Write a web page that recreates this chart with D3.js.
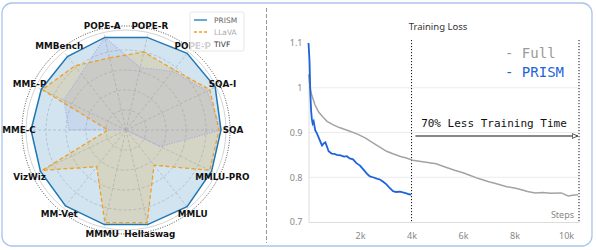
<!DOCTYPE html>
<html>
<head>
<meta charset="utf-8">
<script src="https://cdn.jsdelivr.net/npm/d3@7"></script>
<style>
body{margin:0;background:#fff;}
svg{display:block;}
</style>
</head>
<body>
<div id="chart"></div>
<script>
var w=596;
var h=250;

// radar data (normalised scores)
var axes=["POPE-A","POPE-R","POPE-P","SQA-I","SQA","MMLU-PRO","MMLU","Hellaswag","MMMU","MM-Vet","VizWiz","MME-C","MME-P","MMBench"];
var prism=[0.95,0.95,0.98,0.99,0.95,0.95,0.98,0.97,0.97,0.97,0.95,0.95,0.94,0.94];
var llava=[0.74,0.80,0.77,0.93,0.93,0.93,0.45,0.95,0.95,0.47,0.93,0.18,0.93,0.82];
var tivf=[0.95,0.64,0.75,0.90,0.95,0.38,0,0,0,0,0,0.57,0.69,0.72];

// training loss curves [step, loss]
var fullLoss=[[0,1.03],[60,1.0],[120,0.985],[250,0.962],[400,0.945],[550,0.935],[720,0.925],[960,0.917],[1200,0.911],[1500,0.905],[1880,0.897],[2200,0.888],[2500,0.877],[2800,0.866],[3030,0.858],[3300,0.852],[3600,0.846],[3800,0.843],[4040,0.838],[4300,0.836],[4500,0.834],[4950,0.830],[5300,0.823],[5700,0.815],[6000,0.810],[6230,0.805],[6600,0.797],[7000,0.790],[7260,0.786],[7700,0.779],[8000,0.776],[8270,0.772],[8500,0.768],[8800,0.765],[9100,0.766],[9400,0.764],[9810,0.765],[10080,0.758],[10250,0.760],[10460,0.761]];
var prismLoss=[[0,1.1],[40,1.06],[70,0.99],[100,0.95],[130,0.93],[160,0.92],[200,0.925],[260,0.905],[335,0.897],[420,0.885],[525,0.871],[600,0.876],[655,0.878],[720,0.868],[780,0.858],[900,0.853],[1000,0.852],[1100,0.850],[1250,0.849],[1380,0.846],[1490,0.847],[1600,0.842],[1730,0.840],[1850,0.832],[2000,0.826],[2150,0.816],[2300,0.806],[2385,0.802],[2500,0.800],[2650,0.797],[2770,0.795],[2900,0.790],[3025,0.784],[3150,0.776],[3280,0.769],[3400,0.767],[3550,0.768],[3665,0.766],[3800,0.764],[3900,0.762],[3990,0.761]];
var yTicks=[0.7,0.8,0.9,1,1.1];
var xTicks=[2000,4000,6000,8000,10000];
var xTickLabels=["2k","4k","6k","8k","10k"];

var svg=d3.select("#chart")
  .append("svg")
  .attr("width",w)
  .attr("height",h);

// outer frame + separator
svg.append("rect")
  .attr("x",2).attr("y",3)
  .attr("width",590).attr("height",243)
  .attr("rx",10)
  .attr("fill","none")
  .attr("stroke","#a9c3ef")
  .attr("stroke-width",1.3);
svg.append("line")
  .attr("x1",266.5).attr("x2",266.5)
  .attr("y1",8).attr("y2",243)
  .attr("stroke","#999")
  .attr("stroke-width",1)
  .attr("stroke-dasharray","4,2");

// ---------- radar ----------
var cx=126, cy=130;
var r=d3.scaleLinear().domain([0,1]).range([0,100]);
var angle=d3.scaleLinear().domain([0,axes.length]).range([-Math.PI/axes.length,2*Math.PI-Math.PI/axes.length]);
var radar=svg.append("g").attr("transform","translate("+cx+","+cy+")");

[0.2,0.4,0.6,0.8].forEach(function(v){
  radar.append("circle").attr("r",r(v))
    .attr("fill","none").attr("stroke","#c4c4c4")
    .attr("stroke-width",0.7).attr("stroke-dasharray","3,2");
});
radar.append("circle").attr("r",r(1))
  .attr("fill","none").attr("stroke","#c8c8c8").attr("stroke-width",0.8);
radar.append("circle").attr("r",r(1.04))
  .attr("fill","none").attr("stroke","#222")
  .attr("stroke-width",0.8).attr("stroke-dasharray","1,1.5");

radar.selectAll("line.spoke")
  .data(axes)
  .enter()
  .append("line")
  .attr("class","spoke")
  .attr("x2",function(d,i){ return r(1)*Math.sin(angle(i)); })
  .attr("y2",function(d,i){ return -r(1)*Math.cos(angle(i)); })
  .attr("stroke","#c4c4c4")
  .attr("stroke-width",0.7)
  .attr("stroke-dasharray","3,2");

var radarLine=d3.lineRadial()
  .angle(function(d,i){ return angle(i); })
  .radius(function(d){ return r(d); })
  .curve(d3.curveLinearClosed);

var series=[
  {vals:prism, fill:"#1f77b4", fo:0.2, stroke:"#1f77b4", sw:1.5, dash:null},
  {vals:llava, fill:"#e0a030", fo:0.22, stroke:"#f0a020", sw:1.3, dash:"4,2.5"},
  {vals:tivf, fill:"#8080d0", fo:0.13, stroke:"#a8a8ea", sw:1.2, dash:"1,1.6"}
];
series.forEach(function(s){
  radar.append("path")
    .attr("d",radarLine(s.vals))
    .attr("fill",s.fill)
    .attr("fill-opacity",s.fo)
    .attr("stroke","none");
});
series.slice().reverse().forEach(function(s){
  radar.append("path")
    .attr("d",radarLine(s.vals))
    .attr("fill","none")
    .attr("stroke",s.stroke)
    .attr("stroke-width",s.sw)
    .attr("stroke-dasharray",s.dash);
});

radar.selectAll("text.lbl")
  .data(axes)
  .enter()
  .append("text")
  .attr("class","lbl")
  .text(function(d){ return d; })
  .attr("x",function(d,i){ return 107*Math.sin(angle(i)); })
  .attr("y",function(d,i){ return -107*Math.cos(angle(i)); })
  .attr("dy","0.35em")
  .attr("text-anchor","middle")
  .attr("font-family","DejaVu Sans")
  .attr("font-weight","bold")
  .attr("font-size",8.8)
  .attr("fill","#111");

// legend
var lg=svg.append("g").attr("transform","translate(190,12)");
lg.append("rect")
  .attr("width",54).attr("height",39).attr("rx",2)
  .attr("fill","#fff").attr("fill-opacity",0.8)
  .attr("stroke","#ddd").attr("stroke-width",0.7);
var legendItems=[
  {name:"PRISM", stroke:"#1f77b4", dash:null, tc:"#666"},
  {name:"LLaVA", stroke:"#f0a020", dash:"3,2", tc:"#aaa"},
  {name:"TIVF", stroke:"#d0d0f2", dash:"1,1.6", tc:"#333"}
];
legendItems.forEach(function(d,i){
  lg.append("line")
    .attr("x1",4).attr("x2",17)
    .attr("y1",8+i*12).attr("y2",8+i*12)
    .attr("stroke",d.stroke).attr("stroke-width",1.3)
    .attr("stroke-dasharray",d.dash);
  lg.append("text")
    .attr("x",24).attr("y",8+i*12)
    .attr("dy","0.35em")
    .text(d.name)
    .attr("font-family","DejaVu Sans")
    .attr("font-size",7.5)
    .attr("fill",d.tc);
});

// ---------- training loss ----------
var x=d3.scaleLinear().domain([0,10500]).range([308.5,579]);
var y=d3.scaleLinear().domain([0.7,1.1]).range([222,43]);

svg.append("text")
  .attr("x",438).attr("y",30)
  .attr("text-anchor","middle")
  .text("Training Loss")
  .attr("font-family","Noto Sans")
  .attr("font-size",9.5)
  .attr("fill","#333");

svg.selectAll("line.hgrid")
  .data(yTicks.slice(1,4))
  .enter()
  .append("line")
  .attr("class","hgrid")
  .attr("x1",x(0)).attr("x2",x(10500))
  .attr("y1",function(d){ return y(d); })
  .attr("y2",function(d){ return y(d); })
  .attr("stroke","#ececec");

var yAxis=svg.append("g")
  .attr("transform","translate("+x(0)+",0)")
  .call(d3.axisLeft(y).tickValues(yTicks).tickSize(0).tickPadding(6)
    .tickFormat(function(d){ return d3.format("")(d); }));
yAxis.select(".domain").attr("stroke","#ddd");
yAxis.selectAll("text").attr("fill","#888").attr("font-family","Noto Sans").attr("font-size",9);

var xAxis=svg.append("g")
  .attr("transform","translate(0,"+y(0.7)+")")
  .call(d3.axisBottom(x).tickValues(xTicks).tickSize(0).tickPadding(11)
    .tickFormat(function(d,i){ return xTickLabels[i]; }));
xAxis.select(".domain").attr("stroke","#ddd");
xAxis.selectAll("text").attr("fill","#888").attr("font-family","Noto Sans").attr("font-size",9);

svg.append("text")
  .attr("x",574).attr("y",218)
  .attr("text-anchor","end")
  .text("Steps")
  .attr("font-family","Noto Sans")
  .attr("font-size",9)
  .attr("fill","#888");

// time markers
var markers=[4000,10500];
svg.selectAll("line.mark")
  .data(markers)
  .enter()
  .append("line")
  .attr("class","mark")
  .attr("x1",function(d){ return x(d); })
  .attr("x2",function(d){ return x(d); })
  .attr("y1",40).attr("y2",y(0.7))
  .attr("stroke","#111")
  .attr("stroke-width",1)
  .attr("stroke-dasharray","1.2,1.8");

var line=d3.line()
  .x(function(d){ return x(d[0]); })
  .y(function(d){ return y(d[1]); });

svg.append("path")
  .attr("d",line(fullLoss))
  .attr("fill","none")
  .attr("stroke","#a3a3a3")
  .attr("stroke-width",1.5);
svg.append("path")
  .attr("d",line(prismLoss))
  .attr("fill","none")
  .attr("stroke","#1f63dc")
  .attr("stroke-width",1.8);

// annotation arrow
svg.append("defs").append("marker")
  .attr("id","arr")
  .attr("viewBox","0 0 10 10")
  .attr("refX",9).attr("refY",5)
  .attr("markerWidth",6).attr("markerHeight",6)
  .attr("orient","auto")
  .append("path")
  .attr("d","M0,1L9,5L0,9Z")
  .attr("fill","#fff")
  .attr("stroke","#111")
  .attr("stroke-width",1.2);
svg.append("line")
  .attr("x1",x(4150)).attr("x2",x(10450))
  .attr("y1",136).attr("y2",136)
  .attr("stroke","#111")
  .attr("stroke-width",1)
  .attr("marker-end","url(#arr)");
svg.append("text")
  .attr("x",x(7200)).attr("y",127)
  .attr("text-anchor","middle")
  .text("70% Less Training Time")
  .attr("font-family","DejaVu Sans Mono")
  .attr("font-size",11)
  .attr("fill","#111");

// curve legend
var curveLegend=[{name:"- Full", c:"#9a9a9a"},{name:"- PRISM", c:"#1f63dc"}];
svg.selectAll("text.cl")
  .data(curveLegend)
  .enter()
  .append("text")
  .attr("class","cl")
  .attr("x",505)
  .attr("y",function(d,i){ return 58+i*19; })
  .text(function(d){ return d.name; })
  .attr("font-family","DejaVu Sans Mono")
  .attr("font-size",14)
  .attr("fill",function(d){ return d.c; });
</script>
</body>
</html>
